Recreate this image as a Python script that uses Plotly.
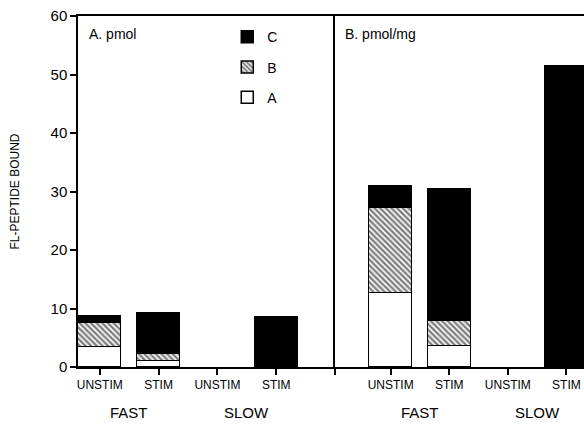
import plotly.graph_objects as go

categories = ["UNSTIM", "STIM", "UNSTIM", "STIM"]
groups = ["FAST", "SLOW"]

# Panel A: pmol (None = no bar drawn)
pmol_A = [3.5, 1.0, None, 0.0]
pmol_B = [4.1, 1.2, None, 0.0]
pmol_C = [1.1, 7.0, None, 8.6]

# Panel B: pmol/mg
mg_A = [12.6, 3.6, None, 0.0]
mg_B = [14.5, 4.3, None, 0.0]
mg_C = [3.9, 22.6, None, 51.5]

series_names = ["A", "B", "C"]
legend_rank = {"C": 1, "B": 2, "A": 3}
pos = [0, 1, 2, 3]

FONT = "Liberation Sans, Arial, Helvetica, sans-serif"
BW = 0.73

def style(name):
    if name == "A":
        return dict(color="white", line=dict(color="black", width=1.5))
    if name == "B":
        return dict(color="white", line=dict(color="black", width=1.5),
                    pattern=dict(shape="\\", fgcolor="black", bgcolor="white",
                                 size=4, solidity=0.6))
    return dict(color="black", line=dict(color="black", width=1.5))

fig = go.Figure()
left = {"A": pmol_A, "B": pmol_B, "C": pmol_C}
right = {"A": mg_A, "B": mg_B, "C": mg_C}
for n in series_names:
    fig.add_trace(go.Bar(x=pos, y=left[n], name=n, width=BW, marker=style(n),
                         xaxis="x", yaxis="y", legendgroup=n, legendrank=legend_rank[n],
                         showlegend=True))
for n in series_names:
    fig.add_trace(go.Bar(x=pos, y=right[n], name=n, width=BW, marker=style(n),
                         xaxis="x2", yaxis="y2", legendgroup=n, legendrank=legend_rank[n],
                         showlegend=False))

D = 0.508
axis_common = dict(showline=True, linecolor="black", linewidth=1.5, mirror=True,
                   ticks="outside", ticklen=6, tickwidth=1.5, tickcolor="black",
                   showgrid=False, zeroline=False,
                   tickfont=dict(family=FONT, size=12, color="black"))

fig.update_layout(
    width=584, height=425,
    margin=dict(l=78, r=0, t=16, b=58),
    paper_bgcolor="white", plot_bgcolor="white",
    barmode="stack", bargap=0,
    showlegend=True,
    legend=dict(x=0.295, y=0.985, xanchor="left", yanchor="top",
                traceorder="grouped", tracegroupgap=9,
                font=dict(family=FONT, size=14, color="black"),
                bgcolor="rgba(0,0,0,0)"),
    xaxis=dict(domain=[0, D], range=[-0.37, 4.0], tickvals=[0, 1, 2, 3, 4],
               ticktext=categories + [""], anchor="y", **axis_common),
    xaxis2=dict(domain=[D, 1], range=[-0.95, 3.3], tickvals=[0, 1, 2, 3],
                ticktext=categories, anchor="y2", **axis_common),
    yaxis=dict(domain=[0, 1], range=[0, 60], tickvals=[0, 10, 20, 30, 40, 50, 60],
               showline=True, linecolor="black", linewidth=1.5, mirror=False,
               ticks="outside", ticklen=6, tickwidth=1.5, tickcolor="black",
               showgrid=False, zeroline=False, anchor="x",
               tickfont=dict(family=FONT, size=15, color="black"),
               title=dict(text="FL-PEPTIDE BOUND", standoff=28,
                          font=dict(family=FONT, size=12, color="black"))),
    yaxis2=dict(domain=[0, 1], range=[0, 60], matches="y", anchor="x2",
                showline=True, linecolor="black", linewidth=1.5, mirror=False,
                ticks="", showticklabels=False, showgrid=False, zeroline=False),
)

annotations = [
    dict(text="A. pmol", xref="x domain", yref="paper", x=0.035, y=0.95,
         xanchor="left", yanchor="middle", showarrow=False,
         font=dict(family=FONT, size=14, color="black")),
    dict(text="B. pmol/mg", xref="x2 domain", yref="paper", x=0.03, y=0.95,
         xanchor="left", yanchor="middle", showarrow=False,
         font=dict(family=FONT, size=14, color="black")),
]
for ax in ["x", "x2"]:
    for gi, g in enumerate(groups):
        annotations.append(dict(text=g, xref=ax, yref="paper", x=2 * gi + 0.5, y=-0.131,
                                xanchor="center", yanchor="middle", showarrow=False,
                                font=dict(family=FONT, size=15, color="black")))
fig.update_layout(annotations=annotations)

fig.write_html("out.html")
